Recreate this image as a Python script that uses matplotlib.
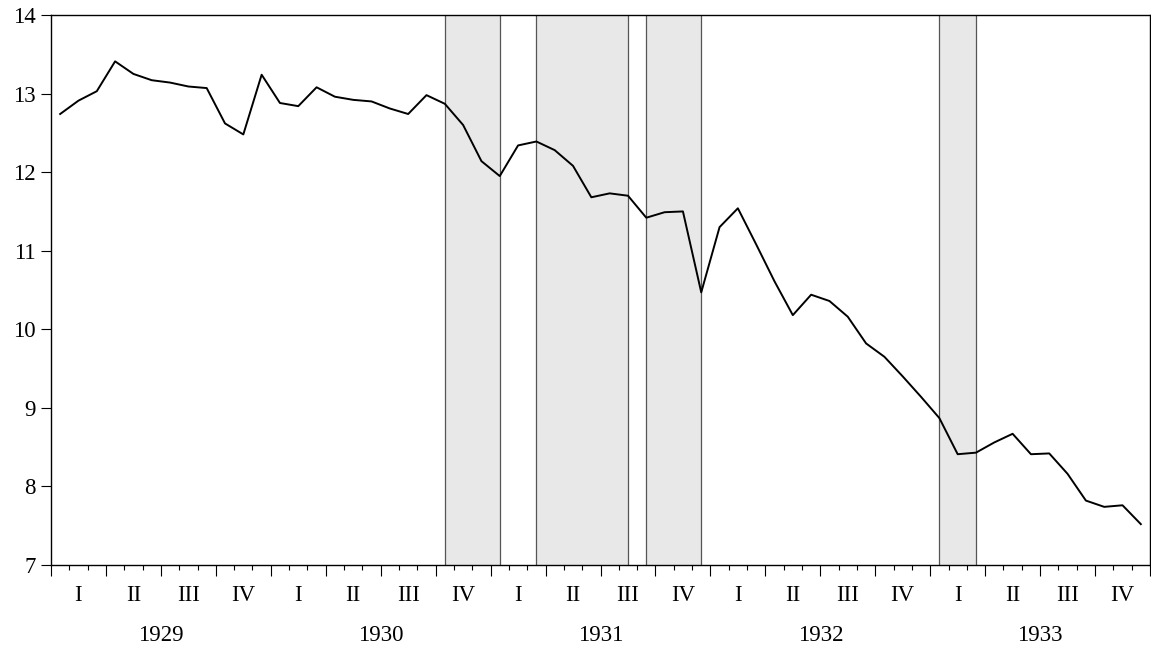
import matplotlib.pyplot as plt
from matplotlib.transforms import blended_transform_factory

# monthly series, Jan 1929 .. Dec 1933
values = [12.74, 12.91, 13.03, 13.41, 13.25, 13.17, 13.14, 13.09, 13.07, 12.62, 12.48, 13.24,
          12.88, 12.84, 13.08, 12.96, 12.92, 12.90, 12.81, 12.74, 12.98, 12.87, 12.60, 12.14,
          11.95, 12.34, 12.39, 12.28, 12.08, 11.68, 11.73, 11.70, 11.42, 11.49, 11.50, 10.47,
          11.30, 11.54, 11.08, 10.61, 10.18, 10.44, 10.36, 10.16, 9.82, 9.65, 9.40, 9.14,
          8.87, 8.41, 8.43, 8.56, 8.67, 8.41, 8.42, 8.16, 7.82, 7.74, 7.76, 7.52]
years = ["1929", "1930", "1931", "1932", "1933"]
quarters = ["I", "II", "III", "IV"]
# shaded periods, as (first month index, last month index)
shaded = [(21, 24), (26, 31), (32, 35), (48, 50)]

plt.rcParams['font.family'] = ['Liberation Serif', 'DejaVu Serif']

fig = plt.figure(figsize=(11.51, 6.54), dpi=100)
ax = fig.add_axes([51 / 1151, 89 / 654, 1099 / 1151, 550 / 654])

x = [i + 0.5 for i in range(len(values))]

for a, b in shaded:
    ax.axvspan(a + 0.5, b + 0.5, color="#e8e8e8", zorder=0, lw=0)
    ax.axvline(a + 0.5, color="#555555", lw=0.9, zorder=1)
    ax.axvline(b + 0.5, color="#555555", lw=0.9, zorder=1)

ax.plot(x, values, color="black", lw=1.4, zorder=3)

ax.set_xlim(0, len(values))
ax.set_ylim(7, 14)
ax.set_yticks(range(7, 15))
ax.set_xticks(range(0, len(values) + 1, 3))
ax.set_xticks(range(0, len(values) + 1), minor=True)
ax.set_xticklabels([])
ax.tick_params(axis="x", which="major", direction="out", length=8, width=0.8)
ax.tick_params(axis="x", which="minor", direction="out", length=3.6, width=0.8)
ax.tick_params(axis="y", direction="out", length=7, width=0.8, pad=4, labelsize=16.5)
for s in ax.spines.values():
    s.set_linewidth(1.0)

trans = blended_transform_factory(ax.transData, ax.transAxes)
for yi, yr in enumerate(years):
    for qi, q in enumerate(quarters):
        ax.text(yi * 12 + qi * 3 + 1.5, -0.056, q, transform=trans,
                ha="center", va="center", fontsize=16.5)
    ax.text(yi * 12 + 6, -0.129, yr, transform=trans,
            ha="center", va="center", fontsize=16.5)

plt.savefig("out.png", dpi=100)
